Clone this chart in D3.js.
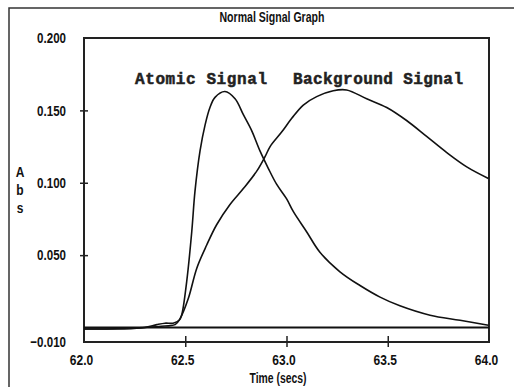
<!DOCTYPE html>
<html>
<head>
<meta charset="utf-8">
<style>
  body { margin: 0; background: #fff; }
  .lbl { font-family: "Liberation Sans", Arial, sans-serif; font-weight: bold; fill: #111; }
  .note { font-family: "Liberation Mono", "DejaVu Sans Mono", monospace; font-weight: bold; fill: #222; stroke: #222; stroke-width: 0.5px; }
</style>
</head>
<body>
<svg id="chart"></svg>
<script src="https://cdn.jsdelivr.net/npm/d3@7"></script>
<script>

var title = "Normal Signal Graph";
var xLabel = "Time (secs)";
var yLabel = ["A", "b", "s"];
var xTicks = [62.0, 62.5, 63.0, 63.5, 64.0];
var yTicks = [-0.010, 0.050, 0.100, 0.150, 0.200];

// atomic signal
var atomicTime = [62.0, 62.1, 62.2, 62.3, 62.36, 62.4, 62.44, 62.47, 62.482, 62.507, 62.532, 62.548, 62.573,
  62.598, 62.622, 62.647, 62.696, 62.746, 62.787, 62.828, 62.869, 62.91, 62.951, 63.0, 63.034,
  63.1, 63.165, 63.264, 63.363, 63.462, 63.56, 63.709, 63.857, 63.997];
var atomicAbs = [-0.001, -0.001, -0.001, 0.000, 0.002, 0.003, 0.003, 0.005, 0.0085, 0.0316, 0.066, 0.094, 0.122,
  0.140, 0.152, 0.159, 0.163, 0.158, 0.147, 0.136, 0.122, 0.110, 0.099, 0.089, 0.080,
  0.066, 0.052, 0.0385, 0.029, 0.021, 0.015, 0.0085, 0.005, 0.0016];

// background signal
var bgTime = [62.0, 62.1, 62.2, 62.3, 62.4, 62.45, 62.474, 62.515, 62.557, 62.606, 62.655, 62.721, 62.787,
  62.853, 62.894, 62.919, 62.976, 63.026, 63.083, 63.149, 63.231, 63.297, 63.396, 63.495, 63.593,
  63.692, 63.79, 63.89, 63.997];
var bgAbs = [-0.001, -0.001, -0.0005, 0.000, 0.001, 0.002, 0.006, 0.020, 0.041, 0.057, 0.071, 0.085, 0.096,
  0.108, 0.118, 0.125, 0.135, 0.1445, 0.1537, 0.1595, 0.1636, 0.1641, 0.158, 0.152, 0.143,
  0.132, 0.121, 0.111, 0.103];

var baseline = 0.0;

// squeeze text to look like a narrow font
function narrow(sel, k) {
  sel.each(function(){
    var w = this.getComputedTextLength();
    d3.select(this).attr("textLength", w * k).attr("lengthAdjust", "spacingAndGlyphs");
  });
}

var svg = d3.select("#chart")
  .attr("width", 514)
  .attr("height", 387);

// outer frame
svg.append("rect")
  .attr("x", 9).attr("y", 8)
  .attr("width", 540).attr("height", 420)
  .attr("fill", "none")
  .attr("stroke", "#333")
  .attr("stroke-width", 1.5);

var x = d3.scaleLinear().domain([62, 64]).range([84, 489]);
var y = d3.scaleLinear().domain([-0.01, 0.2]).range([342, 38]);

// plot box
svg.append("rect")
  .attr("x", x(62)).attr("y", y(0.2))
  .attr("width", x(64) - x(62)).attr("height", y(-0.01) - y(0.2))
  .attr("fill", "none")
  .attr("stroke", "#222")
  .attr("stroke-width", 2);

var yAxis = svg.append("g")
  .attr("transform", "translate(" + x(62) + ",0)")
  .call(d3.axisLeft(y).tickValues(yTicks).tickFormat(d3.format(".3f")).tickSize(0));
yAxis.select(".domain").remove();
yAxis.selectAll(".tick line").attr("x1", -4).attr("x2", 4).attr("stroke", "#222").attr("stroke-width", 1.5)
  .style("display", function(d){ return (d == 0.2 || d == -0.01) ? "none" : null; });
yAxis.selectAll(".tick text").attr("class", "lbl").attr("x", -18).style("font-size", "15px").attr("font-family", null)
  .call(narrow, 0.77);

var xAxis = svg.append("g")
  .attr("transform", "translate(0," + y(-0.01) + ")")
  .call(d3.axisBottom(x).tickValues(xTicks).tickFormat(d3.format(".1f")).tickSize(0));
xAxis.select(".domain").remove();
xAxis.selectAll(".tick line").attr("y1", -6).attr("y2", 5).attr("stroke", "#222").attr("stroke-width", 1.5)
  .style("display", function(d){ return (d == 62 || d == 64) ? "none" : null; });
xAxis.selectAll(".tick text").attr("class", "lbl").attr("x", -3).attr("y", 12).style("font-size", "15px").attr("font-family", null)
  .call(narrow, 0.8);

// baseline
svg.append("line")
  .attr("x1", x(62)).attr("x2", x(64))
  .attr("y1", y(baseline)).attr("y2", y(baseline))
  .attr("stroke", "#111").attr("stroke-width", 2);

var line = d3.line()
  .x(function(d){ return x(d[0]); })
  .y(function(d){ return y(d[1]); })
  .curve(d3.curveCatmullRom.alpha(0.5));

svg.append("path")
  .datum(d3.zip(bgTime, bgAbs))
  .attr("d", line)
  .attr("fill", "none").attr("stroke", "#111").attr("stroke-width", 1.6);

svg.append("path")
  .datum(d3.zip(atomicTime, atomicAbs))
  .attr("d", line)
  .attr("fill", "none").attr("stroke", "#111").attr("stroke-width", 1.6);

// texts
svg.append("text").attr("class", "lbl")
  .attr("x", 272).attr("y", 22).attr("text-anchor", "middle")
  .style("font-size", "14px").text(title)
  .attr("textLength", 105).attr("lengthAdjust", "spacingAndGlyphs");

svg.append("text").attr("class", "lbl")
  .attr("x", 278).attr("y", 383).attr("text-anchor", "middle")
  .style("font-size", "14px").text(xLabel)
  .attr("textLength", 57).attr("lengthAdjust", "spacingAndGlyphs");

svg.selectAll(".ylab").data(yLabel).enter().append("text")
  .attr("class", "lbl ylab")
  .attr("x", 20).attr("y", function(d, i){ return 177 + i * 18; })
  .attr("text-anchor", "middle")
  .style("font-size", "15px")
  .text(function(d){ return d; })
  .call(narrow, 0.8);

svg.append("text").attr("class", "note")
  .attr("x", 135).attr("y", 84)
  .attr("textLength", 132).attr("lengthAdjust", "spacing")
  .style("font-size", "16px").text("Atomic Signal");

svg.append("text").attr("class", "note")
  .attr("x", 293).attr("y", 84)
  .attr("textLength", 170).attr("lengthAdjust", "spacing")
  .style("font-size", "16px").text("Background Signal");

</script>
</body>
</html>
